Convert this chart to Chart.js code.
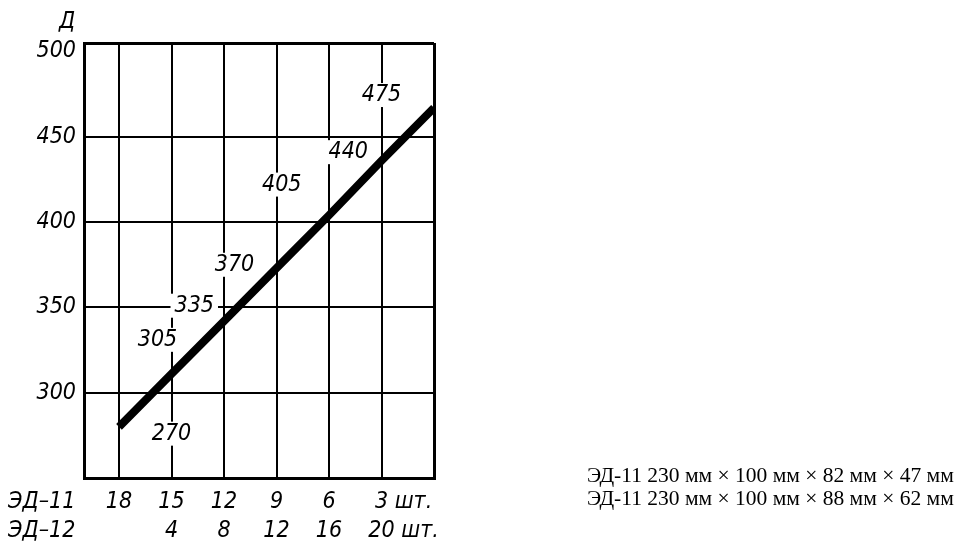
<!DOCTYPE html>
<html>
<head>
<meta charset="utf-8">
<script src="https://cdn.jsdelivr.net/npm/chart.js@4.4.0/dist/chart.umd.min.js"></script>
<style>
  html, body { margin: 0; padding: 0; background: #fff; }
  #wrap { width: 969px; height: 544px; }
</style>
</head>
<body>
<div id="wrap"><canvas id="chart"></canvas></div>
<script>
// количество кирпичей ЭД-11 и ЭД-12 по оси X
const shtED11 = [18, 15, 12, 9, 6, 3];
const shtED12 = ['', 4, 8, 12, 16, 20];
// Д по оси Y
const yTicks = [300, 350, 400, 450, 500];
// линия графика
const lineX = [18, 15, 12, 9, 6, 3, 0];
const lineD = [280, 311, 342, 373, 404, 436, 467];
// подписи на поле графика
const labelText = ['270', '305', '335', '370', '405', '440', '475'];
const labelX = [15, 15.8, 13.7, 11.4, 8.7, 4.9, 3];
const labelY = [276, 331, 351, 375, 422, 441, 474.5];
// размеры кирпичей
const notes = [
    'ЭД-11 230 мм × 100 мм × 82 мм × 47 мм',
    'ЭД-11 230 мм × 100 мм × 88 мм × 62 мм'
];

const techFamily = "'DejaVu Sans Condensed', 'Liberation Sans Narrow', 'DejaVu Sans', sans-serif";
const techSize = 23;
const techFont = 'italic ' + techSize + 'px ' + techFamily;
const rowGap = 29;
const tickPad = 10;

const extras = {
    id: 'extras',
    beforeDatasetsDraw(chart) {
        const ctx = chart.ctx;
        const xs = chart.scales.x, ys = chart.scales.y;
        ctx.save();
        ctx.font = techFont;
        ctx.textAlign = 'center';
        ctx.textBaseline = 'middle';
        labelText.forEach((t, i) => {
            const px = xs.getPixelForValue(labelX[i]);
            const py = ys.getPixelForValue(labelY[i]);
            const w = ctx.measureText(t).width;
            ctx.fillStyle = '#fff';
            ctx.fillRect(px - w / 2 - 4, py - 12, w + 8, 24);
            ctx.fillStyle = '#000';
            ctx.fillText(t, px, py);
        });
        ctx.restore();
    },
    afterDraw(chart) {
        const ctx = chart.ctx;
        const xs = chart.scales.x;
        ctx.save();
        ctx.fillStyle = '#000';
        ctx.font = techFont;
        ctx.textBaseline = 'middle';
        const y1 = xs.top + tickPad + rowGap / 2;
        const y2 = y1 + rowGap;
        ctx.textAlign = 'left';
        ctx.fillText('ЭД–11', 8, y1);
        ctx.fillText('ЭД–12', 8, y2);
        // "шт." после последних чисел
        const px = xs.getPixelForValue(3);
        const w1 = ctx.measureText('3').width;
        const w2 = ctx.measureText('20').width;
        ctx.fillText(' шт.', px + w1 / 2, y1);
        ctx.fillText(' шт.', px + w2 / 2, y2);
        // заголовок оси
        ctx.textAlign = 'center';
        ctx.fillText('Д', 67, 22);
        // размеры справа
        ctx.font = "21.5px 'Liberation Serif', 'DejaVu Serif', serif";
        ctx.textAlign = 'left';
        ctx.fillText(notes[0], 587, 476);
        ctx.fillText(notes[1], 587, 499);
        ctx.restore();
    }
};

const ctx = document.getElementById('chart').getContext('2d');
new Chart(ctx, {
    type: 'line',
    data: {
        datasets: [{
            data: lineX.map((x, i) => ({ x: x, y: lineD[i] })),
            borderColor: '#000',
            borderWidth: 8,
            borderCapStyle: 'butt',
            pointRadius: 0,
            tension: 0
        }]
    },
    options: {
        responsive: true,
        maintainAspectRatio: false,
        animation: false,
        layout: { padding: { left: 0, top: 43, right: 535, bottom: 0 } },
        plugins: { legend: { display: false }, tooltip: { enabled: false } },
        scales: {
            x: {
                type: 'linear',
                reverse: true,
                min: 0,
                max: 20,
                afterBuildTicks: s => { s.ticks = [20].concat(shtED11, [0]).map(v => ({ value: v })); },
                afterFit: s => { s.height = 66; },
                ticks: {
                    autoSkip: false,
                    maxRotation: 0,
                    padding: tickPad,
                    color: '#000',
                    font: { family: techFamily, size: techSize, style: 'italic', lineHeight: rowGap / techSize },
                    callback: v => {
                        const i = shtED11.indexOf(v);
                        return i < 0 ? '' : [String(shtED11[i]), String(shtED12[i])];
                    }
                },
                grid: {
                    color: '#000',
                    lineWidth: c => (c.tick && (c.tick.value === 0 || c.tick.value === 20)) ? 3 : 2,
                    drawTicks: false
                },
                border: { color: '#000', width: 3 }
            },
            y: {
                min: 250,
                max: 505,
                afterBuildTicks: s => { s.ticks = [250].concat(yTicks, [505]).map(v => ({ value: v })); },
                afterFit: s => { s.width = 84; },
                ticks: {
                    padding: 8,
                    color: '#000',
                    font: { family: techFamily, size: techSize, style: 'italic' },
                    callback: v => yTicks.includes(v) ? String(v) : ''
                },
                grid: {
                    color: c => (c.tick && c.tick.value === 500) ? 'rgba(0,0,0,0)' : '#000',
                    lineWidth: c => (c.tick && c.tick.value === 505) ? 3 : 2,
                    drawTicks: false
                },
                border: { color: '#000', width: 3 }
            }
        }
    },
    plugins: [extras]
});
</script>
</body>
</html>
